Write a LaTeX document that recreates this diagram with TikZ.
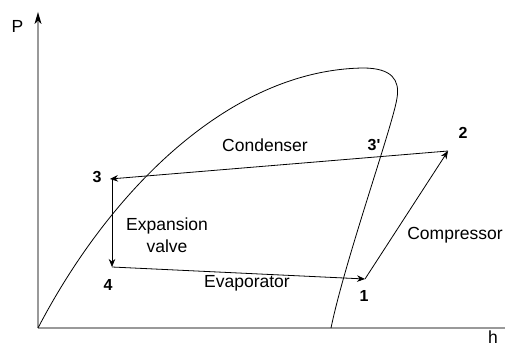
\documentclass[tikz,border=0pt]{standalone}
\usepackage{fontspec}
\setmainfont{Liberation Sans}
\usetikzlibrary{arrows.meta}
\begin{document}
\begin{tikzpicture}[x=1pt,y=-1pt,
  axis/.style={draw=black!40, line width=1.2pt},
  curve/.style={draw=black, line width=0.8pt},
  proc/.style={draw=black, line width=0.8pt, -{Stealth[length=8pt,width=6.5pt]}},
  lbl/.style={font=\fontsize{17.5}{20}\selectfont, inner sep=0pt},
  num/.style={font=\fontsize{16}{18}\selectfont\bfseries, inner sep=0pt}]
\useasboundingbox (0,0) rectangle (505,347);
% axes
\coordinate (o) at (38,328);
\coordinate (ytop) at (38,12);
\coordinate (xend) at (505,328);
\draw[axis] (o) -- (38,22);
\fill (ytop) -- (34.5,24) -- (38,21) -- (41.5,24) -- cycle;
\draw[axis] (o) -- (xend);
\node[lbl] (P) at (17.5,26) {P};
\node[lbl, anchor=base] (h) at (493,343.5) {h};
% saturation dome
\coordinate (top) at (363,68);
\coordinate (rt) at (397,98);
\coordinate (bot) at (331,328);
\draw[curve] (o) .. controls (110,190) and (230,70) .. (top)
  .. controls (392,68) and (400,80) .. (rt)
  .. controls (393,125) and (345,260) .. (bot);
% cycle points
\coordinate (p1) at (365,279);
\coordinate (p2) at (448,151);
\coordinate (p3) at (110,179);
\coordinate (p3b) at (112,179);
\coordinate (p4) at (112,267);
\draw[proc] (p2) -- (p3);
\draw[proc] (p3b) -- (p4);
\draw[proc] (p4) -- (p1);
\draw[proc] (p1) -- (p2);
% labels
\node[num] (n1) at (364,296) {1};
\node[num] (n2) at (463,133) {2};
\node[num] (n3) at (97,177) {3};
\node[num] (n4) at (108,285) {4};
\node[num] (n3p) at (374,145) {3\textquotesingle};
\node[lbl] (cond) at (265,145) {Condenser};
\node[lbl] (evap) at (247,283) {Evaporator};
\node[lbl] (comp) at (455,235) {Compressor};
\node[lbl, align=center, font=\fontsize{17.5}{22}\selectfont] (exp) at (167,235) {Expansion\\valve};
\end{tikzpicture}
\end{document}
